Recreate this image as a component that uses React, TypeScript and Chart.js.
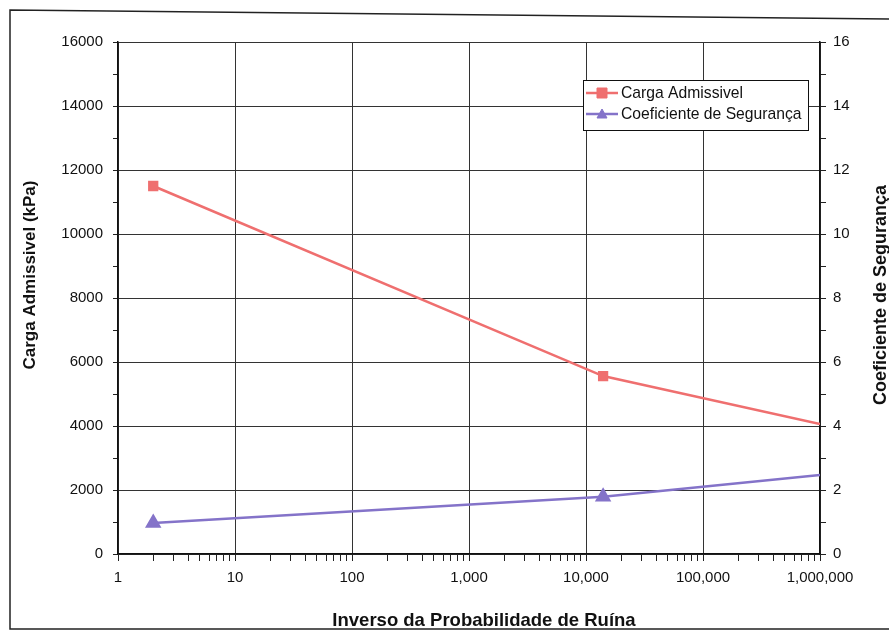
import React, { useEffect, useRef } from "react";
import { Chart, registerables } from "chart.js";

Chart.register(...registerables);

// ---- data ----
const xValues = [2, 14000, 1000000];
const cargaAdmissivel = [11500, 5560, 4060];
const coeficienteSeguranca = [0.97, 1.79, 2.47];
const seriesLabels = ["Carga Admissivel", "Coeficiente de Segurança"];
const xTickLabels = ["1", "10", "100", "1,000", "10,000", "100,000", "1,000,000"];
const leftTitle = "Carga Admissivel (kPa)";
const rightTitle = "Coeficiente de Segurança";
const xTitle = "Inverso da Probabilidade de Ruína";

const RED = "#EF6F6F";
const PURPLE = "#8473C9";
const FONT = "'Liberation Sans', Arial, sans-serif";

const isDecade = (v: number) => {
  const l = Math.log10(v);
  return Math.abs(l - Math.round(l)) < 1e-9;
};

const frame = {
  id: "frame",
  beforeDraw(chart: any) {
    const ctx = chart.ctx;
    ctx.save();
    ctx.fillStyle = "#fff";
    ctx.fillRect(0, 0, chart.width, chart.height);
    ctx.strokeStyle = "#222";
    ctx.lineWidth = 1.5;
    ctx.beginPath();
    ctx.moveTo(900, 19);
    ctx.lineTo(10, 10);
    ctx.lineTo(10, 629);
    ctx.lineTo(900, 629);
    ctx.stroke();
    ctx.restore();
  },
};

const axisTitles = {
  id: "axisTitles",
  afterDraw(chart: any) {
    const ctx = chart.ctx;
    ctx.save();
    ctx.fillStyle = "#111";
    ctx.textAlign = "center";
    ctx.textBaseline = "middle";
    // x title
    ctx.font = `bold 18.5px ${FONT}`;
    ctx.fillText(xTitle, 484, 621);
    // left title
    ctx.save();
    ctx.translate(30, 275);
    ctx.rotate(-Math.PI / 2);
    ctx.font = `bold 17px ${FONT}`;
    ctx.fillText(leftTitle, 0, 0);
    ctx.restore();
    // right title (reads bottom-to-top)
    ctx.save();
    ctx.translate(881, 295);
    ctx.rotate(-Math.PI / 2);
    ctx.font = `bold 18px ${FONT}`;
    ctx.fillText(rightTitle, 0, 0);
    ctx.restore();
    ctx.restore();
  },
};

const drawMarker = (ctx: any, style: string, x: number, y: number, r: number, color: string) => {
  ctx.fillStyle = color;
  ctx.strokeStyle = color;
  ctx.lineWidth = 1;
  ctx.beginPath();
  if (style === "rect") {
    ctx.rect(x - r, y - r, 2 * r, 2 * r);
  } else {
    ctx.moveTo(x, y - r);
    ctx.lineTo(x + r, y + r * 0.8);
    ctx.lineTo(x - r, y + r * 0.8);
    ctx.closePath();
  }
  ctx.fill();
  ctx.stroke();
};

const legendBox = {
  id: "legendBox",
  afterDraw(chart: any) {
    const ctx = chart.ctx;
    const x0 = 583, y0 = 80, w = 225, h = 50;
    ctx.save();
    ctx.fillStyle = "#fff";
    ctx.fillRect(x0, y0, w, h);
    ctx.strokeStyle = "#111";
    ctx.lineWidth = 1;
    ctx.strokeRect(x0 + 0.5, y0 + 0.5, w, h);
    chart.data.datasets.forEach((ds: any, i: number) => {
      const y = y0 + 13 + i * 21;
      ctx.strokeStyle = ds.borderColor;
      ctx.lineWidth = 2.5;
      ctx.beginPath();
      ctx.moveTo(x0 + 3, y);
      ctx.lineTo(x0 + 35, y);
      ctx.stroke();
      drawMarker(ctx, ds.pointStyle, x0 + 19, y, 5, ds.borderColor);
      ctx.fillStyle = "#111";
      ctx.font = `15.7px ${FONT}`;
      ctx.textBaseline = "middle";
      ctx.textAlign = "left";
      ctx.fillText(ds.label, x0 + 38, y + 1);
    });
    ctx.restore();
  },
};

export default function App() {
  const ref = useRef<HTMLCanvasElement | null>(null);

  useEffect(() => {
    document.body.style.margin = "0";
    document.body.style.overflow = "hidden";
    if (!ref.current) return;
    Chart.defaults.font.family = FONT;
    const chart = new Chart(ref.current, {
      type: "line",
      data: {
        datasets: [
          {
            label: seriesLabels[0],
            data: xValues.map((x, i) => ({ x, y: cargaAdmissivel[i] })),
            yAxisID: "y",
            borderColor: RED,
            backgroundColor: RED,
            borderWidth: 2.5,
            pointStyle: "rect",
            pointRadius: [5.5, 5.5, 0],
            pointHoverRadius: [5.5, 5.5, 0],
            tension: 0,
          },
          {
            label: seriesLabels[1],
            data: xValues.map((x, i) => ({ x, y: coeficienteSeguranca[i] })),
            yAxisID: "y1",
            borderColor: PURPLE,
            backgroundColor: PURPLE,
            borderWidth: 2.5,
            pointStyle: "triangle",
            pointRadius: [7, 7, 0],
            pointHoverRadius: [7, 7, 0],
            tension: 0,
          },
        ],
      },
      options: {
        responsive: false,
        animation: false,
        layout: { padding: { top: 42, left: 0, right: 0, bottom: 0 } },
        plugins: { legend: { display: false }, tooltip: { enabled: false } },
        scales: {
          x: {
            type: "logarithmic",
            min: 1,
            max: 1000000,
            afterBuildTicks: (scale: any) => {
              const t: any[] = [];
              for (let e = 0; e < 6; e++) {
                for (let m = 1; m < 10; m++) t.push({ value: m * Math.pow(10, e) });
              }
              t.push({ value: 1000000 });
              scale.ticks = t;
            },
            afterFit: (scale: any) => {
              scale.height = 78;
            },
            ticks: {
              autoSkip: false,
              maxRotation: 0,
              padding: 8,
              color: "#111",
              font: { size: 15 },
              callback: (v: any) => (isDecade(Number(v)) ? xTickLabels[Math.round(Math.log10(Number(v)))] : ""),
            },
            grid: {
              color: (c: any) => (c.tick && isDecade(c.tick.value) ? "#333" : "rgba(0,0,0,0)"),
              tickColor: "#222",
              tickLength: 7,
              lineWidth: 1,
            },
            border: { display: true, color: "#111", width: 1.5 },
            title: { display: false },
          },
          y: {
            position: "left",
            min: 0,
            max: 16000,
            afterFit: (scale: any) => {
              scale.width = 118;
            },
            ticks: {
              stepSize: 1000,
              padding: 10,
              color: "#111",
              font: { size: 15 },
              callback: (v: any) => (Number(v) % 2000 === 0 ? String(v) : ""),
            },
            grid: {
              color: (c: any) => (c.tick && c.tick.value % 2000 === 0 ? "#333" : "rgba(0,0,0,0)"),
              tickColor: "#222",
              tickLength: 5,
              lineWidth: 1,
            },
            border: { display: true, color: "#111", width: 1.5 },
            title: { display: false },
          },
          y1: {
            position: "right",
            min: 0,
            max: 16,
            afterFit: (scale: any) => {
              scale.width = 69;
            },
            ticks: {
              stepSize: 1,
              padding: 7,
              color: "#111",
              font: { size: 15 },
              callback: (v: any) => (Number(v) % 2 === 0 ? String(v) : ""),
            },
            grid: {
              drawOnChartArea: false,
              tickColor: "#222",
              tickLength: 6,
            },
            border: { display: true, color: "#111", width: 1.5 },
            title: { display: false },
          },
        },
      } as any,
      plugins: [frame, axisTitles, legendBox],
    });
    return () => chart.destroy();
  }, []);

  return (
    <div style={{ width: 889, height: 632 }}>
      <canvas ref={ref} width={889} height={632} />
    </div>
  );
}
